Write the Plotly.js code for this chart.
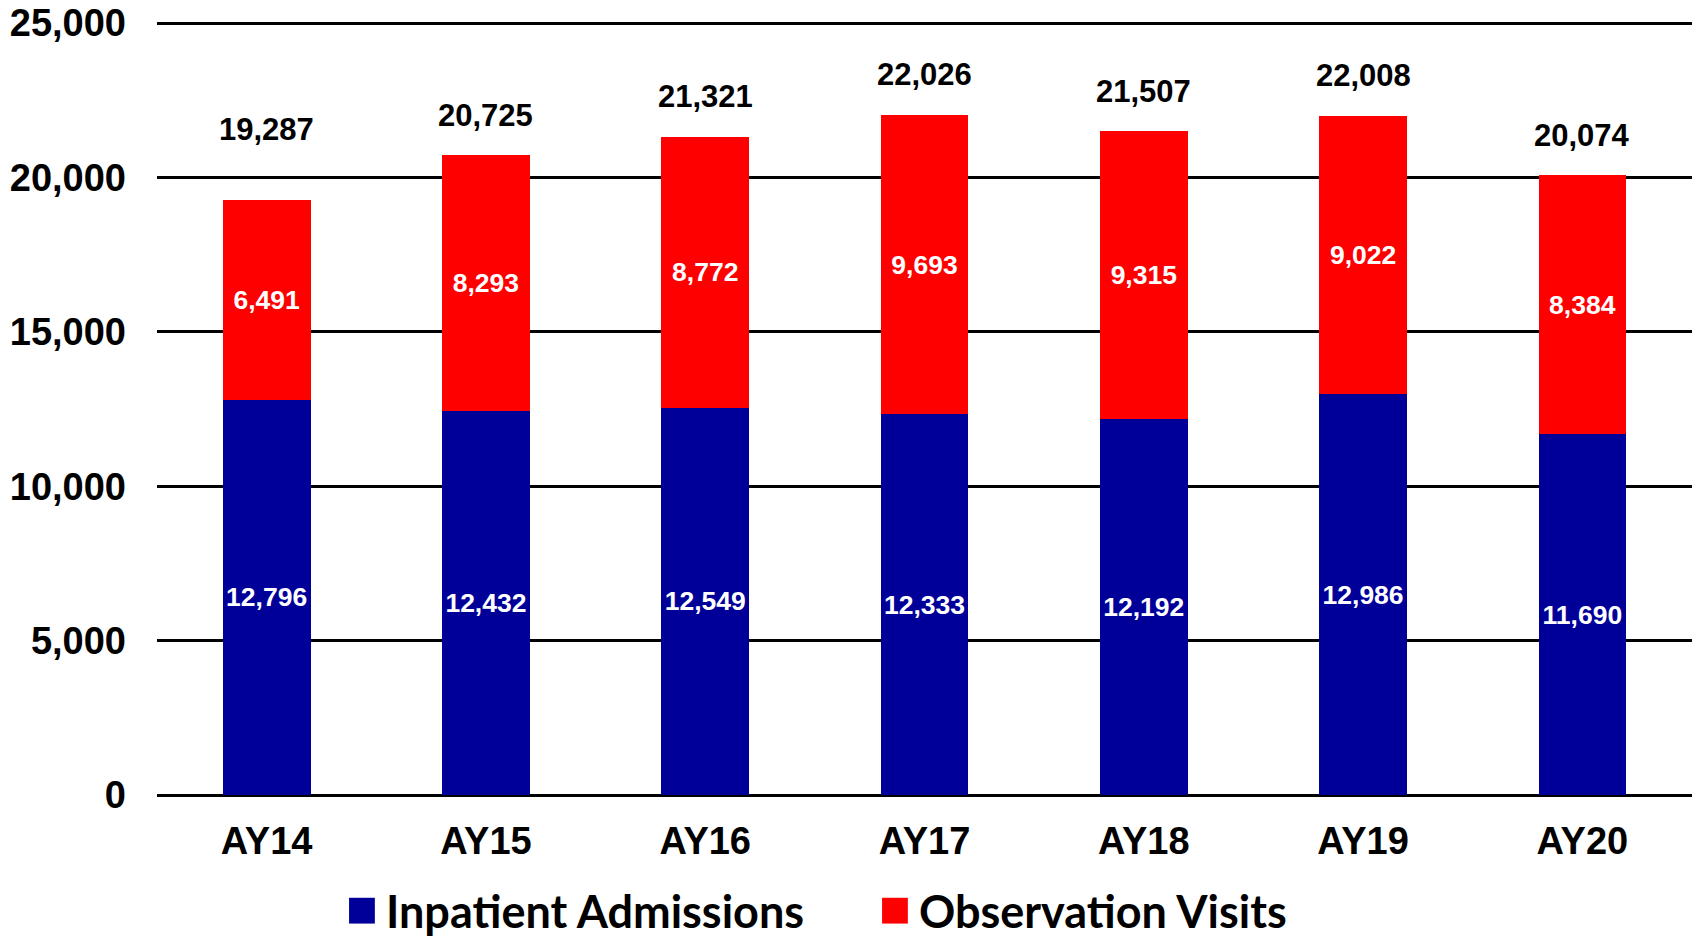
<!DOCTYPE html>
<html><head><meta charset="utf-8">
<script src="https://cdn.plot.ly/plotly-3.0.1.min.js"></script>
<style>html,body{margin:0;padding:0;background:#fff}#chart{width:1696px;height:940px}</style>
</head><body><div id="chart"></div>
<script>
const categories = ['AY14','AY15','AY16','AY17','AY18','AY19','AY20'];
const inpatient = [12796,12432,12549,12333,12192,12986,11690];
const observation = [6491,8293,8772,9693,9315,9022,8384];
const totals = [19287,20725,21321,22026,21507,22008,20074];
const yTickVals = [0,5000,10000,15000,20000,25000];
const yTickText = ['0','5,000','10,000','15,000','20,000','25,000'];
const seriesNames = ['Inpatient Admissions','Observation Visits'];

const FONT = 'Liberation Sans, Arial, sans-serif';
const fmt = v => v.toLocaleString('en-US');

const innerFont = {family: FONT, size: 26.5, color: '#ffffff', weight: 'bold'};

const traces = [
  {type:'bar', name: seriesNames[0], x: categories, y: inpatient,
   marker:{color:'#000099', line:{width:0}},
   text: inpatient.map(fmt), textposition:'inside', insidetextanchor:'middle',
   textangle:0, textfont: innerFont, hoverinfo:'x+y+name'},
  {type:'bar', name: seriesNames[1], x: categories, y: observation,
   marker:{color:'#ff0000', line:{width:0}},
   text: observation.map(fmt), textposition:'inside', insidetextanchor:'middle',
   textangle:0, textfont: innerFont, hoverinfo:'x+y+name'}
];

const annotations = totals.map((t,i) => ({
  x: categories[i], y: t, xref:'x', yref:'y', text: fmt(t), showarrow:false,
  yanchor:'middle', yshift: i === 0 ? 70 : 40,
  font:{family: FONT, size: 31, color:'#000000', weight:'bold'}
}));

const layout = {
  width: 1696, height: 940,
  margin: {l:157, r:4, t:17, b:145, pad:0, autoexpand:false},
  paper_bgcolor:'#ffffff', plot_bgcolor:'#ffffff',
  barmode:'stack', bargap: 0.6,
  showlegend: true,
  legend: {orientation:'h', x: 0.1231, xanchor:'left', y: -0.149, yanchor:'middle',
           traceorder:'normal', itemclick:false, itemdoubleclick:false,
           entrywidthmode:'pixels', entrywidth: 488,
           font:{family:'Lato, Noto Sans, sans-serif', size:45, color:'#000000', weight:'bold'}},
  xaxis: {type:'category', showgrid:false, showline:false, zeroline:false, ticks:'',
          ticklabelstandoff: 20,
          tickfont:{family: FONT, size:38, color:'#000000', weight:'bold'}},
  yaxis: {range:[0,25200], tickvals: yTickVals, ticktext: yTickText, showgrid:true,
          gridcolor:'#000000', gridwidth:3, zeroline:true, zerolinecolor:'#000000', zerolinewidth:3,
          showline:false, ticks:'', ticklabelstandoff: 30,
          tickfont:{family: FONT, size:38, color:'#000000', weight:'bold'}},
  annotations: annotations
};

const gd = document.getElementById('chart');
Plotly.newPlot(gd, traces, layout, {displayModeBar:false, staticPlot:true}).then(() => {
  const fix = () => {
    gd.querySelectorAll('.legendpoints path').forEach(p => {
      p.setAttribute('transform', 'translate(16,0) scale(2.15)');
    });
  };
  fix();
  gd.on('plotly_afterplot', fix);
});
</script></body></html>
